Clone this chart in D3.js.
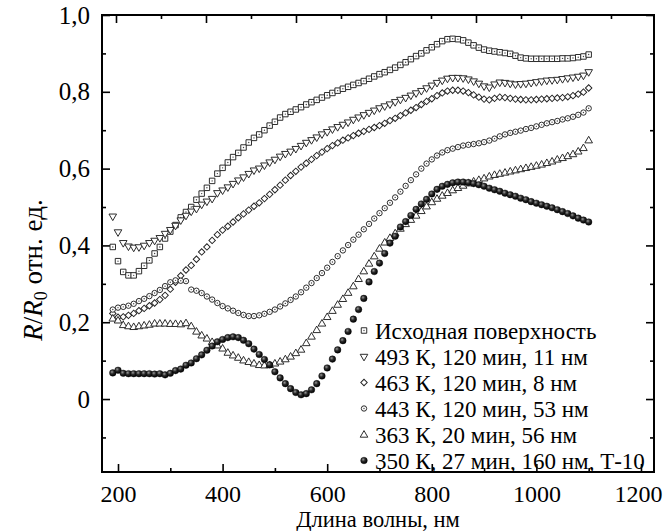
<!DOCTYPE html>
<html><head><meta charset="utf-8">
<script src="https://cdn.jsdelivr.net/npm/d3@7"></script>
<style>html,body{margin:0;padding:0;background:#fff}</style>
</head><body>
<script>
// Wavelength grid, nm
const wavelengths = d3.range(190, 1101, 10);

const sInitial = [
 .396,.359,.331,.322,.322,.333,.347,.361,.379,.396,
 .418,.436,.453,.473,.487,.500,.519,.535,.550,.568,
 .587,.602,.616,.630,.641,.655,.668,.680,.689,.700,
 .712,.722,.733,.742,.748,.754,.760,.767,.773,.779,
 .785,.791,.797,.803,.808,.813,.818,.823,.828,.834,
 .840,.846,.851,.857,.863,.870,.877,.885,.893,.900,
 .908,.916,.924,.932,.937,.938,.937,.934,.928,.921,
 .915,.910,.907,.905,.903,.901,.899,.894,.889,.887,
 .886,.886,.886,.886,.886,.886,.887,.887,.888,.890,
 .892,.897];
const s493 = [
 .476,.435,.407,.398,.395,.396,.400,.407,.413,.420,
 .431,.441,.452,.466,.478,.489,.496,.507,.515,.522,
 .537,.544,.552,.561,.570,.578,.587,.596,.601,.609,
 .617,.624,.632,.639,.645,.652,.660,.668,.675,.682,
 .690,.696,.703,.709,.715,.721,.728,.734,.740,.746,
 .752,.758,.763,.768,.774,.780,.785,.791,.797,.803,
 .810,.817,.824,.830,.835,.837,.837,.836,.833,.828,
 .822,.815,.812,.820,.825,.824,.822,.820,.821,.822,
 .824,.826,.828,.830,.831,.832,.834,.836,.838,.840,
 .843,.852];
const s463 = [
 .223,.213,.214,.218,.223,.230,.236,.243,.250,.259,
 .270,.286,.304,.321,.336,.348,.364,.383,.396,.413,
 .428,.440,.450,.461,.472,.482,.492,.502,.511,.522,
 .533,.545,.557,.570,.582,.593,.604,.614,.624,.634,
 .643,.652,.660,.667,.674,.680,.686,.692,.697,.702,
 .707,.712,.718,.725,.731,.738,.745,.752,.759,.767,
 .775,.782,.790,.797,.802,.804,.804,.802,.798,.792,
 .786,.781,.779,.783,.786,.785,.783,.781,.780,.779,
 .779,.780,.781,.782,.783,.784,.785,.787,.790,.794,
 .799,.810];
const s443 = [
 .233,.238,.240,.243,.248,.255,.261,.268,.276,.284,
 .294,.304,.309,.308,.307,.285,.282,.276,.267,.259,
 .250,.242,.236,.230,.224,.219,.216,.216,.218,.222,
 .227,.233,.241,.249,.258,.267,.278,.290,.302,.315,
 .328,.342,.357,.372,.387,.401,.415,.428,.442,.456,
 .470,.484,.497,.511,.525,.540,.555,.570,.585,.600,
 .613,.624,.634,.642,.648,.652,.656,.660,.662,.664,
 .666,.669,.673,.678,.684,.689,.693,.696,.699,.703,
 .706,.710,.714,.718,.721,.724,.728,.731,.735,.740,
 .746,.757];
const s363 = [
 .210,.205,.193,.190,.188,.190,.192,.194,.197,.197,
 .197,.196,.196,.195,.198,.190,.176,.166,.158,.149,
 .140,.132,.121,.114,.108,.101,.097,.093,.089,.088,
 .089,.093,.098,.104,.111,.120,.129,.146,.163,.180,
 .197,.214,.230,.246,.261,.277,.294,.313,.333,.353,
 .372,.392,.408,.420,.432,.444,.456,.467,.478,.490,
 .502,.513,.522,.530,.537,.544,.550,.556,.562,.567,
 .571,.575,.580,.584,.587,.590,.593,.596,.599,.602,
 .605,.608,.611,.615,.619,.624,.628,.633,.638,.645,
 .654,.674];
const s350 = [
 .068,.075,.067,.066,.066,.066,.066,.066,.065,.066,
 .063,.067,.074,.078,.088,.094,.105,.115,.127,.138,
 .149,.155,.160,.162,.160,.153,.144,.130,.116,.103,
 .089,.071,.055,.040,.027,.017,.011,.014,.024,.040,
 .060,.081,.104,.128,.152,.176,.208,.233,.262,.305,
 .332,.354,.379,.406,.424,.448,.462,.478,.494,.508,
 .520,.534,.546,.554,.559,.563,.565,.565,.564,.561,
 .558,.554,.549,.545,.541,.536,.532,.528,.523,.519,
 .514,.510,.506,.502,.498,.493,.488,.483,.477,.471,
 .466,.461];

const legendLabels = [
 "Исходная поверхность",
 "493 К, 120 мин, 11 нм",
 "463 К, 120 мин, 8 нм",
 "443 К, 120 мин, 53 нм",
 "363 К, 20 мин, 56 нм",
 "350 К, 27 мин, 160 нм, Т-10"];
const markerKinds = ["square","tridown","diamond","circle","triup","sphere"];

const xMajor = [200,400,600,800,1000,1200];
const xMinor = [300,500,700,900,1100];
const topMajor = [200,400,600,800,1000,1200];
const topMinor = [300,500,700,900,1100,1300];
const yMajor = [0,0.2,0.4,0.6,0.8,1.0];
const yMinor = [-0.1,0.1,0.3,0.5,0.7,0.9];

const xTitle = "Длина волны, нм";

const seriesValues = [sInitial, s493, s463, s443, s363, s350];

const W = 664, H = 531;
const L = 102, R = 654, T = 15, B = 472;
const FONT = "'Liberation Serif','Times New Roman',serif";

const svg = d3.select("body").append("svg").attr("width", W).attr("height", H)
  .style("font-family", FONT);

const defs = svg.append("defs");
const grad = defs.append("radialGradient").attr("id","sph").attr("cx","38%").attr("cy","35%").attr("r","65%");
grad.append("stop").attr("offset","0%").attr("stop-color","#9a9a9a");
grad.append("stop").attr("offset","45%").attr("stop-color","#2a2a2a");
grad.append("stop").attr("offset","100%").attr("stop-color","#000");

const x = d3.scaleLinear().domain([169.4, 1224.9]).range([L, R]);
const xTop = d3.scaleLinear().domain([168.9, 1395.6]).range([L, R]);
const y = d3.scaleLinear().domain([-0.19, 1.0]).range([B, T]);

const fmt = d => d === 0 ? "0" : d3.format(".1f")(d).replace(".", ",");

function styleAxis(g){ g.attr("font-family", FONT); g.select(".domain").remove(); g.selectAll("line").attr("stroke","#000").attr("stroke-width",1.6); }

// bottom
svg.append("g").attr("transform",`translate(0,${B})`)
  .call(d3.axisBottom(x).tickValues(xMajor).tickSizeInner(-8).tickSizeOuter(0).tickPadding(13).tickFormat(d3.format("d")))
  .call(styleAxis)
  .selectAll("text").attr("font-size",24).attr("fill","#000")
  .attr("dx", d => d === 1200 ? -3 : 0);
svg.append("g").attr("transform",`translate(0,${B})`)
  .call(d3.axisBottom(x).tickValues(xMinor).tickSizeInner(-4).tickSizeOuter(0).tickFormat(""))
  .call(styleAxis);
// top
svg.append("g").attr("transform",`translate(0,${T})`)
  .call(d3.axisTop(xTop).tickValues(topMajor).tickSizeInner(-8).tickSizeOuter(0).tickFormat(""))
  .call(styleAxis);
svg.append("g").attr("transform",`translate(0,${T})`)
  .call(d3.axisTop(xTop).tickValues(topMinor).tickSizeInner(-4).tickSizeOuter(0).tickFormat(""))
  .call(styleAxis);
// left
svg.append("g").attr("transform",`translate(${L},0)`)
  .call(d3.axisLeft(y).tickValues(yMajor).tickSizeInner(-8).tickSizeOuter(0).tickPadding(12).tickFormat(fmt))
  .call(styleAxis)
  .selectAll("text").attr("font-size",25).attr("fill","#000");
svg.append("g").attr("transform",`translate(${L},0)`)
  .call(d3.axisLeft(y).tickValues(yMinor).tickSizeInner(-4).tickSizeOuter(0).tickFormat(""))
  .call(styleAxis);
// right
svg.append("g").attr("transform",`translate(${R},0)`)
  .call(d3.axisRight(y).tickValues(yMajor).tickSizeInner(-8).tickSizeOuter(0).tickFormat(""))
  .call(styleAxis);
svg.append("g").attr("transform",`translate(${R},0)`)
  .call(d3.axisRight(y).tickValues(yMinor).tickSizeInner(-4).tickSizeOuter(0).tickFormat(""))
  .call(styleAxis);

// frame
svg.append("rect").attr("x",L).attr("y",T).attr("width",R-L).attr("height",B-T)
  .attr("fill","none").attr("stroke","#000").attr("stroke-width",2);

// markers
const symSq = d3.symbol().type(d3.symbolSquare).size(30)();
const symTri = d3.symbol().type(d3.symbolTriangle).size(25)();
const symDia = d3.symbol().type(d3.symbolSquare).size(21)();
function drawMarker(g, kind){
  if (kind === "sphere") {
    g.append("circle").attr("r",3.3).attr("fill","url(#sph)").attr("stroke","#000").attr("stroke-width",0.4);
    return;
  }
  const st = {fill:"#fff", stroke:"#222", "stroke-width":0.95};
  let p;
  if (kind === "square") { p = g.append("path").attr("d", symSq); }
  else if (kind === "tridown") { p = g.append("path").attr("d", symTri).attr("transform","rotate(180)"); }
  else if (kind === "triup") { p = g.append("path").attr("d", symTri).attr("transform","translate(0,0.5)"); }
  else if (kind === "diamond") { p = g.append("path").attr("d", symDia).attr("transform","rotate(45)"); }
  else if (kind === "circle") { p = g.append("circle").attr("r",2.7); }
  for (const k in st) p.attr(k, st[k]);
  if (kind === "square" || kind === "circle") {
    g.append("circle").attr("r",0.7).attr("fill","#444");
  }
}

seriesValues.forEach((vals, si) => {
  const g = svg.append("g");
  const pts = g.selectAll("g").data(vals.map((v,i)=>({x:wavelengths[i], v})))
    .join("g").attr("transform", d => `translate(${x(d.x)},${y(d.v)})`);
  pts.each(function(){ drawMarker(d3.select(this), markerKinds[si]); });
});

// legend
const lg = svg.append("g");
legendLabels.forEach((lab, i) => {
  const cy = 330.5 + i*26;
  const m = lg.append("g").attr("transform",`translate(364,${cy})`);
  drawMarker(m, markerKinds[i]);
  lg.append("text").attr("x",375).attr("y",cy+8).attr("font-size",23).attr("fill","#000").text(lab);
});

// axis titles
svg.append("text").attr("x",378).attr("y",527).attr("text-anchor","middle").attr("font-size",22.5).attr("fill","#000").text(xTitle);
const yt = svg.append("text").attr("transform","translate(42,270) rotate(-90)").attr("text-anchor","middle").attr("font-size",27).attr("fill","#000");
yt.append("tspan").attr("font-style","italic").text("R");
yt.append("tspan").text("/");
yt.append("tspan").attr("font-style","italic").text("R");
yt.append("tspan").attr("font-size",18).attr("dy",5).text("0");
yt.append("tspan").attr("dy",-5).text(" отн. ед.");
</script>
</body></html>
